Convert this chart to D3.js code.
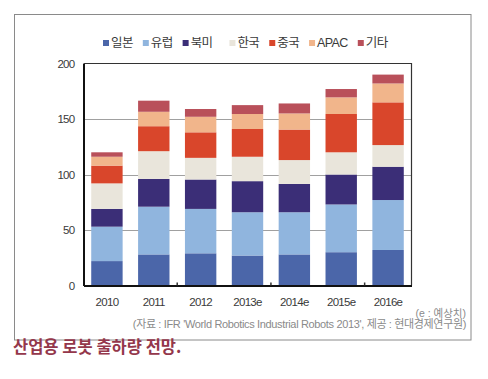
<!DOCTYPE html>
<html><head><meta charset="utf-8">
<script src="https://cdn.jsdelivr.net/npm/d3@7"></script>
<style>
body{margin:0;background:#fff;}
svg{display:block;font-family:"Liberation Sans","Noto Sans CJK KR",sans-serif;}
</style></head>
<body><svg id="c" width="488" height="379"></svg>
<script>
const years = ["2010","2011","2012","2013e","2014e","2015e","2016e"];
const seriesNames = ["일본","유럽","북미","한국","중국","APAC","기타"];
const seriesColors = ["#4b66a9","#90b5de","#3b2e77","#e9e5db","#d9462b","#f1b58b","#b9505a"];
const japan   = [22, 28, 29, 27, 28, 30, 32];
const europe  = [31, 43, 40, 39, 38, 43, 45];
const namerica= [16, 25, 26.5, 28, 25.5, 27, 30];
const korea   = [23, 25, 19.5, 22, 21.5, 20, 19.5];
const china   = [16, 22.5, 23, 25, 27.5, 34.5, 38.5];
const apac    = [8, 13, 14, 13.5, 14.5, 15, 17];
const others  = [4, 10, 7, 8, 9, 7.5, 8];
const yTicks = [0, 50, 100, 150, 200];

const seriesValues = [japan, europe, namerica, korea, china, apac, others];
const rows = years.map((y, i) => {
  const r = {year: y};
  seriesNames.forEach((s, k) => r[s] = seriesValues[k][i]);
  return r;
});
const stacked = d3.stack().keys(seriesNames)(rows);

const svg = d3.select("#c");
const m = {left: 83.5, right: 411.5, top: 63.5, bottom: 285.5};

// outer border
svg.append("rect").attr("x", 14.5).attr("y", 14.5).attr("width", 456.5).attr("height", 325.5)
  .attr("fill", "none").attr("stroke", "#8a8a8a").attr("stroke-width", 1);

const x = d3.scaleBand().domain(years).range([m.left, m.right]).paddingInner(0.33).paddingOuter(0.165);
const y = d3.scaleLinear().domain([0, 200]).range([m.bottom, m.top]);

// gridlines
svg.append("g").selectAll("line").data(yTicks.filter(t => t > 0 && t < 200)).join("line")
  .attr("x1", m.left).attr("x2", m.right)
  .attr("y1", d => Math.round(y(d)) + 0.5).attr("y2", d => Math.round(y(d)) + 0.5)
  .attr("stroke", "#a0a0a0").attr("stroke-width", 1);

// frame top/right
svg.append("path").attr("d", `M${m.left},${m.top}H${m.right}V${m.bottom}`)
  .attr("fill", "none").attr("stroke", "#333").attr("stroke-width", 1.2);

// bars
svg.append("g").selectAll("g").data(stacked).join("g")
  .attr("fill", (d, i) => seriesColors[i])
  .selectAll("rect").data(d => d).join("rect")
  .attr("x", d => x(d.data.year))
  .attr("width", x.bandwidth())
  .attr("y", d => y(d[1]))
  .attr("height", d => y(d[0]) - y(d[1]));

// y axis
const yAxis = d3.axisLeft(y).tickValues(yTicks).tickSize(0).tickPadding(9);
const gy = svg.append("g").attr("transform", `translate(${m.left},0)`).call(yAxis);
gy.select(".domain").attr("stroke", "#111").attr("stroke-width", 2);
gy.selectAll("text").attr("font-size", 11.5).attr("fill", "#3a3a3a").attr("letter-spacing", "-0.7");

// x axis
const xAxis = d3.axisBottom(x).tickSize(0).tickPadding(12);
const gx = svg.append("g").attr("transform", `translate(0,${m.bottom})`).call(xAxis);
gx.select(".domain").attr("stroke", "#111").attr("stroke-width", 2);
gx.selectAll("text").attr("font-size", 11.5).attr("fill", "#3a3a3a").attr("letter-spacing", "-0.7");

// small ticks between some bars
const step = x.step();
svg.append("g").selectAll("line").data([2, 4, 6]).join("line")
  .attr("x1", d => m.left + step * d).attr("x2", d => m.left + step * d)
  .attr("y1", m.bottom - 3).attr("y2", m.bottom)
  .attr("stroke", "#333").attr("stroke-width", 1.5);

// legend
const lg = svg.append("g");
let lx = 0;
seriesNames.forEach((s, i) => {
  const g = lg.append("g").attr("transform", `translate(${lx},0)`);
  g.append("rect").attr("x", 0).attr("y", -3).attr("width", 6).attr("height", 6).attr("fill", seriesColors[i]);
  const t = g.append("text").attr("x", 8).attr("y", 0).attr("dy", "0.35em")
    .attr("font-size", 12.5).attr("fill", "#3a3a3a").attr("letter-spacing", "-0.6").text(s);
  lx += 8 + t.node().getComputedTextLength() + (i === 2 ? 17 : 10);
});
const lw = lx - 10;
lg.attr("transform", `translate(${103},43)`);

// notes
svg.append("text").attr("x", 466).attr("y", 313).attr("dy", "0.35em").attr("text-anchor", "end")
  .attr("font-size", 10.5).attr("fill", "#8a8a8a").text("(e : 예상치)");
svg.append("text").attr("x", 466).attr("y", 324).attr("dy", "0.35em").attr("text-anchor", "end")
  .attr("font-size", 11).attr("fill", "#8a8a8a").attr("letter-spacing", "-0.35")
  .text("(자료 : IFR 'World Robotics Industrial Robots 2013', 제공 : 현대경제연구원)");

// title
svg.append("text").attr("x", 13).attr("y", 347).attr("dy", "0.35em")
  .attr("font-size", 16.5).attr("font-weight", "bold").attr("fill", "#94374b")
  .attr("font-family", "'Noto Sans CJK KR',sans-serif")
  .text("산업용 로봇 출하량 전망.");
</script></body></html>
